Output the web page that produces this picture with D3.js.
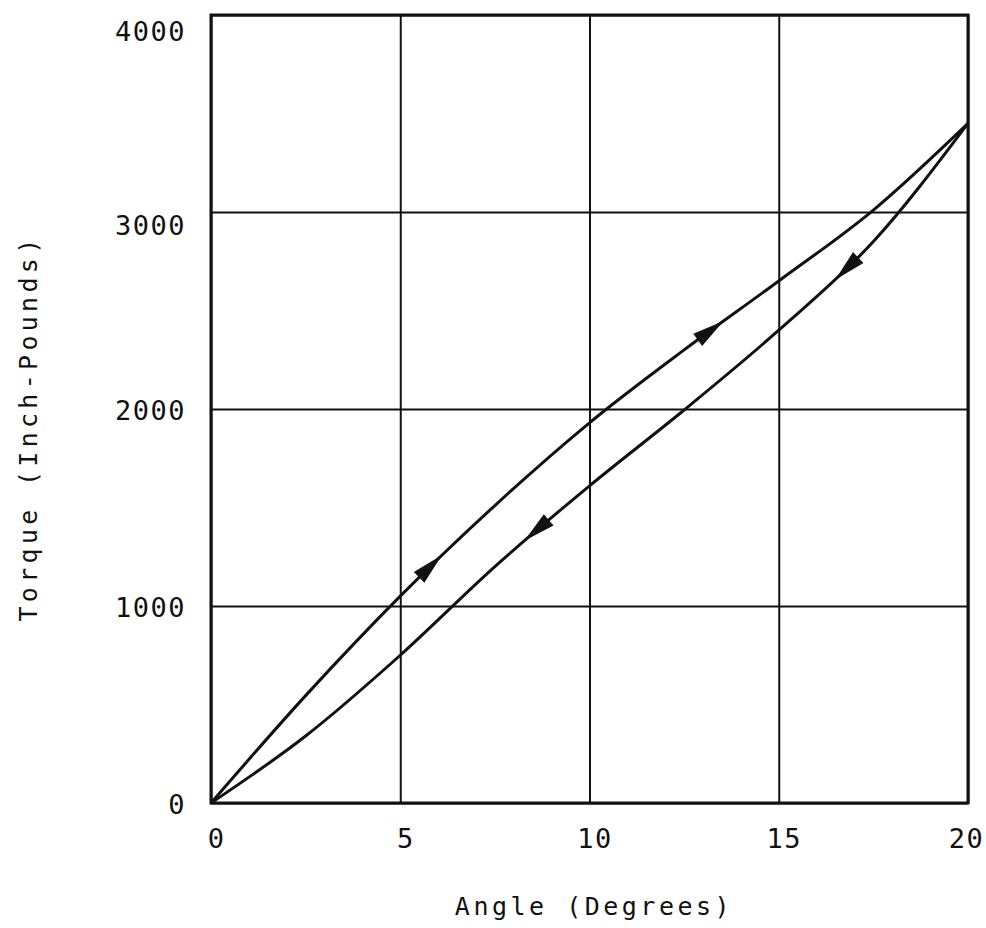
<!DOCTYPE html>
<html>
<head>
<meta charset="utf-8">
<script src="https://cdn.jsdelivr.net/npm/d3@7"></script>
<style>
  body { margin: 0; background: #fff; }
  text { font-family: "DejaVu Sans Mono", monospace; fill: #111; }
</style>
</head>
<body>
<div id="chart"></div>
<script>
// data
const loadAngle = [0, 2.5, 5, 7.5, 10, 12.5, 15, 17.5, 20];
const loadTorque = [0, 545, 1050, 1510, 1930, 2300, 2650, 3010, 3450];
const unloadAngle = [0, 2.5, 5, 7.5, 10, 12.5, 15, 17.5, 20];
const unloadTorque = [0, 340, 750, 1200, 1610, 1995, 2400, 2850, 3450];
// where the arrow heads sit (angle); loading points up, unloading down
const loadArrows = [5.8, 13.2];
const unloadArrows = [8.6, 16.8];
const xTicks = [0, 5, 10, 15, 20];
const yTicks = [0, 1000, 2000, 3000, 4000];

const width = 986, height = 928;
const plot = { left: 211, right: 968, top: 15, bottom: 803 };

const svg = d3.select("#chart").append("svg")
  .attr("width", width)
  .attr("height", height);

const x = d3.scaleLinear().domain([0, 20]).range([plot.left, plot.right]);
const y = d3.scaleLinear().domain([0, 4000]).range([plot.bottom, plot.top]);

//x axis + vertical grid
const xAxis = svg.append("g")
  .attr("transform", `translate(0, ${plot.bottom})`)
  .call(d3.axisBottom(x).tickValues(xTicks).tickFormat(d3.format("d"))
    .tickSizeInner(-(plot.bottom - plot.top)).tickSizeOuter(0).tickPadding(26));
xAxis.select(".domain").remove();
xAxis.selectAll("line").attr("stroke", "#111").attr("stroke-width", 2);
xAxis.selectAll("text")
  .style("font-size", "27px")
  .style("letter-spacing", "1.5px")
  .attr("dx", (d) => (d === 20 ? "-2px" : "5px"));

//y axis + horizontal grid
const yAxis = svg.append("g")
  .attr("transform", `translate(${plot.left}, 0)`)
  .call(d3.axisLeft(y).tickValues(yTicks).tickFormat(d3.format("d"))
    .tickSizeInner(-(plot.right - plot.left)).tickSizeOuter(0).tickPadding(25));
yAxis.select(".domain").remove();
yAxis.selectAll("line").attr("stroke", "#111").attr("stroke-width", 2);
yAxis.selectAll("text")
  .style("font-size", "27px")
  .style("letter-spacing", "1.5px")
  .attr("dy", (d) => (d === 4000 ? "0.95em" : d === 3000 ? "0.85em" : "0.4em"));

//frame
svg.append("rect")
  .attr("x", plot.left).attr("y", plot.top)
  .attr("width", plot.right - plot.left).attr("height", plot.bottom - plot.top)
  .attr("fill", "none")
  .attr("stroke", "#111")
  .attr("stroke-width", 3);

//curves
const lineFunc = d3.line()
  .x((d) => x(d[0]))
  .y((d) => y(d[1]))
  .curve(d3.curveMonotoneX);

const curves = [
  { pts: d3.zip(loadAngle, loadTorque), arrows: loadArrows, dir: 1 },
  { pts: d3.zip(unloadAngle, unloadTorque), arrows: unloadArrows, dir: -1 }
];

curves.forEach((c) => {
  const path = svg.append("path")
    .attr("d", lineFunc(c.pts))
    .attr("fill", "none")
    .attr("stroke", "#111")
    .attr("stroke-width", 3);

  const node = path.node();
  const total = node.getTotalLength();

  // find length along path where x matches
  function lengthAtX(px) {
    let lo = 0, hi = total;
    for (let i = 0; i < 40; i++) {
      const mid = (lo + hi) / 2;
      if (node.getPointAtLength(mid).x < px) lo = mid; else hi = mid;
    }
    return (lo + hi) / 2;
  }

  c.arrows.forEach((a) => {
    const L = lengthAtX(x(a));
    const p0 = node.getPointAtLength(L - 16 * c.dir);
    const p1 = node.getPointAtLength(L + 16 * c.dir);
    const ang = Math.atan2(p1.y - p0.y, p1.x - p0.x);
    const nx = -Math.sin(ang), ny = Math.cos(ang);
    const hw = 7.5;
    const pts = [
      [p1.x, p1.y],
      [p0.x + nx * hw, p0.y + ny * hw],
      [p0.x - nx * hw, p0.y - ny * hw]
    ];
    svg.append("polygon")
      .attr("points", pts.map((p) => p.join(",")).join(" "))
      .attr("fill", "#111");
  });
});

//axis titles
svg.append("text")
  .attr("x", 594)
  .attr("y", 915)
  .attr("text-anchor", "middle")
  .style("font-size", "25px")
  .style("letter-spacing", "3.5px")
  .text("Angle (Degrees)");

svg.append("g")
  .attr("transform", "translate(37, 428)")
  .append("text")
  .attr("transform", "rotate(-90)")
  .attr("text-anchor", "middle")
  .style("font-size", "25px")
  .style("letter-spacing", "4.3px")
  .text("Torque (Inch-Pounds)");
</script>
</body>
</html>
